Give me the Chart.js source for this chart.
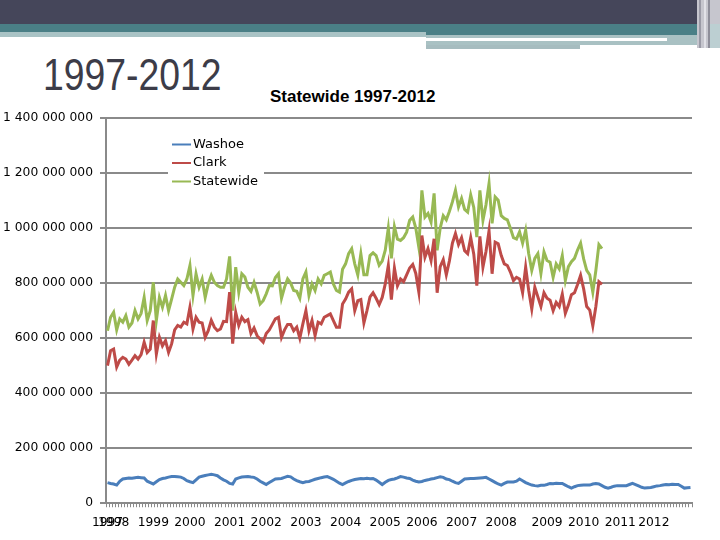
<!DOCTYPE html>
<html>
<head>
<meta charset="utf-8">
<script src="https://cdn.jsdelivr.net/npm/chart.js@4.4.1/dist/chart.umd.min.js"></script>
<style>
    body { margin: 0; width: 720px; height: 540px; overflow: hidden; background: #fff; position: relative; }
    .band { position: absolute; }
    #slideTitle { position: absolute; left: 43px; top: 52px; font: 45px/1 "Liberation Sans Narrow", "Liberation Sans", sans-serif; color: #3c3c48; white-space: nowrap; transform: scaleX(0.83); transform-origin: 0 0; }
    #chartTitle { position: absolute; left: 270px; top: 88px; font: bold 17px/1 "Liberation Sans", sans-serif; color: #000; white-space: nowrap; }
    #wrap { position: absolute; left: 0; top: 80px; width: 700px; height: 460px; }
</style>
</head>
<body>
<!-- slide header bands -->
<div class="band" style="left:0;top:0;width:697px;height:24px;background:#45465a"></div>
<div class="band" style="left:0;top:24px;width:697px;height:11px;background:#4a7f86"></div>
<div class="band" style="left:0;top:32px;width:426px;height:5px;background:#a9c3c5"></div>
<div class="band" style="left:426px;top:35px;width:271px;height:10px;background:#a9c1c3"></div>
<div class="band" style="left:426px;top:38px;width:241px;height:3px;background:#fff"></div>
<div class="band" style="left:426px;top:45px;width:154px;height:4px;background:#a6bcbf"></div>
<div class="band" style="left:697px;top:0;width:23px;height:48px;background:#c6c6ce"></div>
<div class="band" style="left:699px;top:0;width:2px;height:48px;background:#9a9aa6"></div>
<div class="band" style="left:704px;top:0;width:2px;height:48px;background:#e2e2e8"></div>
<div class="band" style="left:708px;top:0;width:2px;height:48px;background:#8e8e9a"></div>
<div class="band" style="left:710px;top:24px;width:10px;height:24px;background:#bccfd2"></div>

<div id="slideTitle">1997-2012</div>
<div id="chartTitle">Statewide 1997-2012</div>
<div id="wrap"><canvas id="chart"></canvas></div>

<script>
// Monthly values in millions, Jan 1997 onwards
const washoe = [
    75, 72, 70, 66, 80, 88, 90, 92, 91, 93,
    94, 93, 92, 80, 75, 70, 78, 86, 90, 92,
    95, 97, 97, 96, 95, 90, 82, 78, 75, 85,
    95, 98, 101, 103, 105, 103, 100, 92, 85, 80,
    72, 70, 88, 92, 95, 96, 97, 95, 94, 88,
    80, 74, 68, 75, 82, 88, 89, 90, 94, 98,
    96, 88, 82, 78, 75, 78, 79, 83, 87, 90,
    93, 95, 97, 92, 87, 80, 73, 68, 74, 79,
    83, 86, 88, 90, 89, 91, 89, 90, 84, 76,
    68, 76, 83, 86, 88, 92, 97, 95, 92, 90,
    84, 80, 77, 79, 83, 85, 88, 90, 93, 96,
    94, 88, 86, 80, 75, 72, 80, 88, 89, 90,
    90, 91, 92, 93, 94, 88, 82, 76, 70, 66,
    72, 77, 77, 77, 80, 88, 82, 75, 70, 66,
    64, 63, 65, 65, 68, 72, 71, 73, 72, 72,
    66, 60, 55, 60, 64, 65, 66, 66, 66, 70,
    72, 70, 64, 58, 55, 58, 62, 64, 64, 64,
    64, 68, 72, 68, 63, 58, 55, 56, 57, 60,
    63, 64, 66, 68, 67, 69, 68, 68, 62, 55,
    56, 57
];
const clark = [
    500, 554, 560, 495, 520, 530, 524, 505, 520, 536,
    524, 540, 585, 548, 560, 664, 542, 603, 572, 591,
    548, 579, 630, 646, 640, 658, 652, 712, 633, 676,
    658, 655, 603, 627, 665, 640, 627, 633, 661, 660,
    767, 580, 694, 646, 676, 660, 667, 617, 637, 609,
    597, 585, 617, 630, 650, 670, 676, 603, 630, 650,
    650, 627, 640, 600, 652, 700, 627, 664, 609, 658,
    652, 676, 682, 688, 664, 640, 640, 724, 742, 767,
    779, 700, 736, 740, 655, 700, 750, 765, 745, 722,
    748, 797, 864, 740, 855, 790, 815, 805, 830, 855,
    868, 835, 767, 973, 894, 925, 882, 961, 765, 860,
    885, 830, 880, 945, 980, 940, 965, 918, 907, 965,
    905, 791, 970, 858, 915, 990, 834, 949, 943, 900,
    870, 864, 840, 809, 821, 815, 765, 858, 773, 706,
    785, 750, 715, 765, 745, 738, 700, 730, 715, 760,
    690, 720, 758, 765, 795, 828, 779, 715, 702, 645,
    715, 805, 795
];
const statewide = [
    627, 676, 694, 630, 670, 658, 682, 640, 655, 700,
    670, 690, 748, 664, 700, 803, 664, 748, 712, 755,
    700, 742, 785, 815, 803, 791, 815, 864, 755, 834,
    785, 815, 748, 797, 828, 803, 791, 785, 785, 815,
    897, 700, 858, 767, 834, 822, 785, 770, 803, 767,
    724, 736, 761, 791, 790, 820, 834, 745, 785, 815,
    800, 773, 770, 745, 815, 840, 755, 797, 773, 815,
    797, 828, 834, 840, 797, 773, 767, 850, 870, 907,
    925, 870, 830, 907, 830, 830, 900, 910, 900, 865,
    880, 920, 1000, 890, 1005, 960, 955, 965, 985, 1028,
    1040, 1000, 930, 1137, 1040, 1053, 1022, 1126, 919, 1000,
    1045, 1030, 1060, 1095, 1137, 1077, 1108, 1068, 1058, 1120,
    1075, 967, 1137, 1028, 1085, 1162, 1017, 1113, 1101, 1045,
    1035, 1030, 999, 965, 960, 986, 945, 992, 907, 846,
    890, 907, 835, 913, 882, 876, 821, 870, 852, 900,
    810, 860, 878, 890, 920, 945, 888, 846, 830, 767,
    846, 940, 925
];

// Year labels and the category they sit under
const years = ['1997', '1998', '1999', '2000', '2001', '2002', '2003', '2004',
               '2005', '2006', '2007', '2008', '2009', '2010', '2011', '2012'];
const yearAt = [0, 2, 15, 27, 40, 52, 65, 78, 91, 103, 116, 129, 144, 156, 168, 179];

const labels = washoe.map(() => '');
yearAt.forEach((k, j) => { labels[k] = years[j]; });

const gridGray = '#8a8a8a';
const tickFont = { family: 'DejaVu Sans', size: 12.3 };

// legend box drawn inside the plot, top-left
const insideLegend = {
    id: 'insideLegend',
    afterDraw(chart) {
        const { ctx, chartArea } = chart;
        const x0 = chartArea.left + 62;
        const y0 = chartArea.top + 19;
        ctx.save();
        ctx.fillStyle = '#fff';
        ctx.fillRect(x0, y0, 96, 57);
        ctx.font = '13px "DejaVu Sans"';
        ctx.textBaseline = 'middle';
        chart.data.datasets.forEach((ds, k) => {
            const y = y0 + 7.5 + k * 18.5;
            ctx.strokeStyle = ds.borderColor;
            ctx.lineWidth = 2;
            ctx.beginPath();
            ctx.moveTo(x0 + 4, y);
            ctx.lineTo(x0 + 23, y);
            ctx.stroke();
            ctx.fillStyle = '#000';
            ctx.fillText(ds.label, x0 + 25, y);
        });
        ctx.restore();
    }
};

new Chart(document.getElementById('chart'), {
    type: 'line',
    data: {
        labels: labels,
        datasets: [
            { label: 'Washoe', data: washoe.map(v => v * 1e6), borderColor: '#4a7ebb' },
            { label: 'Clark', data: clark.map(v => v * 1e6), borderColor: '#be4b48' },
            { label: 'Statewide', data: statewide.map(v => v * 1e6), borderColor: '#98b954' }
        ]
    },
    options: {
        responsive: true,
        maintainAspectRatio: false,
        animation: false,
        elements: {
            line: { borderWidth: 3, tension: 0 },
            point: { radius: 0 }
        },
        layout: { padding: { left: 3, right: 8, top: 38, bottom: 2 } },
        plugins: {
            legend: { display: false },
            tooltip: { enabled: false }
        },
        scales: {
            x: {
                offset: true,
                grid: { offset: true, drawOnChartArea: false, drawTicks: true, tickLength: 4, color: gridGray, lineWidth: 1 },
                border: { color: gridGray, width: 2 },
                ticks: { autoSkip: false, maxRotation: 0, minRotation: 0, padding: 8, color: '#000', font: tickFont }
            },
            y: {
                min: 0,
                max: 1400000000,
                afterFit: scale => { scale.width = 103; },
                grid: { color: gridGray, lineWidth: 2, tickLength: 6 },
                border: { color: gridGray, width: 2 },
                ticks: {
                    stepSize: 200000000,
                    padding: 7,
                    color: '#000',
                    font: tickFont,
                    callback: v => String(v).replace(/\B(?=(\d{3})+(?!\d))/g, ' ')
                }
            }
        }
    },
    plugins: [insideLegend]
});
</script>
</body>
</html>
